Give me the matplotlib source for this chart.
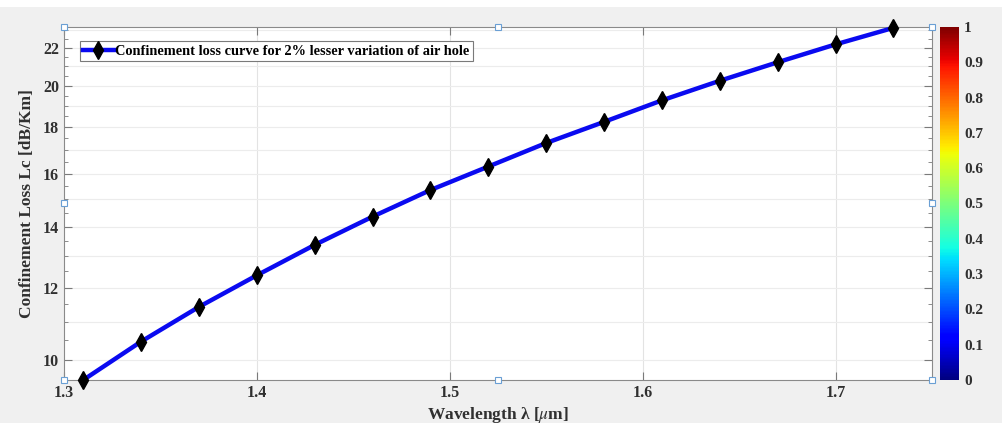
import numpy as np
import matplotlib
matplotlib.use("Agg")
import matplotlib.pyplot as plt
import matplotlib.ticker as ticker

plt.rcParams['font.family'] = ['Liberation Serif', 'DejaVu Serif']
plt.rcParams['mathtext.fontset'] = 'stix'

# data
wavelength = [1.31, 1.34, 1.37, 1.40, 1.43, 1.46, 1.49, 1.52,
              1.55, 1.58, 1.61, 1.64, 1.67, 1.70, 1.73]
loss = [9.5, 10.47, 11.43, 12.38, 13.37, 14.36, 15.36, 16.3,
        17.3, 18.25, 19.27, 20.25, 21.22, 22.2, 23.15]
xticks = [1.3, 1.4, 1.5, 1.6, 1.7]
yticks = [10, 12, 14, 16, 18, 20, 22]
cbar_ticks = [0, 0.1, 0.2, 0.3, 0.4, 0.5, 0.6, 0.7, 0.8, 0.9, 1]
legend_text = "Confinement loss curve for 2% lesser variation of air hole"

fig = plt.figure(figsize=(10.03, 4.23), dpi=100)
fig.patch.set_facecolor('#f0f0f0')
# white strip at the top (cropped document text)
fig.patches.append(plt.Rectangle((0, 0.983), 1, 0.02, transform=fig.transFigure,
                                 facecolor='white', edgecolor='none'))

ax = fig.add_axes([0.0638, 0.1017, 0.8654, 0.8345])
ax.set_yscale('log')
ax.set_xlim(1.3, 1.75)
ax.set_ylim(9.5, 23.2)

# grid: vertical at major x ticks, horizontal at each integer
for v in xticks[1:]:
    ax.axvline(v, color='#e3e3e3', lw=0.8, zorder=0)
for v in range(10, 24):
    ax.axhline(v, color='#ececec', lw=0.8, zorder=0)

ax.plot(wavelength, loss, color='#0a0af0', lw=3.2, marker='d', markersize=9,
        markerfacecolor='black', markeredgecolor='black', label=legend_text,
        clip_on=False, zorder=4)

ax.yaxis.set_major_locator(ticker.FixedLocator(yticks))
ax.yaxis.set_major_formatter(ticker.FormatStrFormatter('%d'))
ax.yaxis.set_minor_locator(ticker.FixedLocator(np.arange(9.5, 23.5, 0.5)))
ax.yaxis.set_minor_formatter(ticker.NullFormatter())
ax.set_xticks(xticks)
ax.xaxis.set_major_formatter(ticker.FormatStrFormatter('%.1f'))
ax.tick_params(which='both', direction='in', top=True, right=True, color='#7a7a7a',
               labelcolor='#303030', labelsize=11.5)
ax.tick_params(which='major', length=6)
ax.tick_params(which='minor', length=3)
for lab in ax.get_xticklabels() + ax.get_yticklabels():
    lab.set_fontweight('bold')
for sp in ax.spines.values():
    sp.set_color('#8a8a8a')

ax.set_xlabel(r'Wavelength λ [$\mu$m]', fontsize=12.5, fontweight='bold',
              color='#303030', labelpad=3)
ax.set_ylabel('Confinement Loss Lc [dB/Km]', fontsize=12.5, fontweight='bold',
              color='#303030', labelpad=6)

leg = ax.legend(loc='upper left', bbox_to_anchor=(0.018, 0.96),
                prop={'weight': 'bold', 'size': 10.4}, handlelength=2.1,
                handletextpad=0.1, borderpad=0.25, fancybox=False, framealpha=1,
                borderaxespad=0)
leg.get_frame().set_edgecolor('#7a7a7a')
leg.get_frame().set_linewidth(0.8)

# selection handles on the axes box
hx = [0, 0.5, 1, 0, 1, 0, 0.5, 1]
hy = [1, 1, 1, 0.5, 0.5, 0, 0, 0]
ax.plot(hx, hy, linestyle='none', marker='s', markersize=4, markerfacecolor='white',
        markeredgecolor='#6a9fd4', markeredgewidth=0.8, transform=ax.transAxes,
        clip_on=False, zorder=5)

# colorbar
cax = fig.add_axes([0.9372, 0.1017, 0.0185, 0.8345])
sm = plt.cm.ScalarMappable(cmap='jet', norm=plt.Normalize(0, 1))
cb = fig.colorbar(sm, cax=cax, ticks=cbar_ticks)
cb.ax.set_yticklabels(['0', '0.1', '0.2', '0.3', '0.4', '0.5', '0.6', '0.7',
                       '0.8', '0.9', '1'])
cb.outline.set_visible(False)
cb.ax.tick_params(length=0, labelsize=11, labelcolor='#303030', pad=4)
for lab in cb.ax.get_yticklabels():
    lab.set_fontweight('bold')

fig.savefig('out.png', dpi=100, facecolor=fig.get_facecolor())
